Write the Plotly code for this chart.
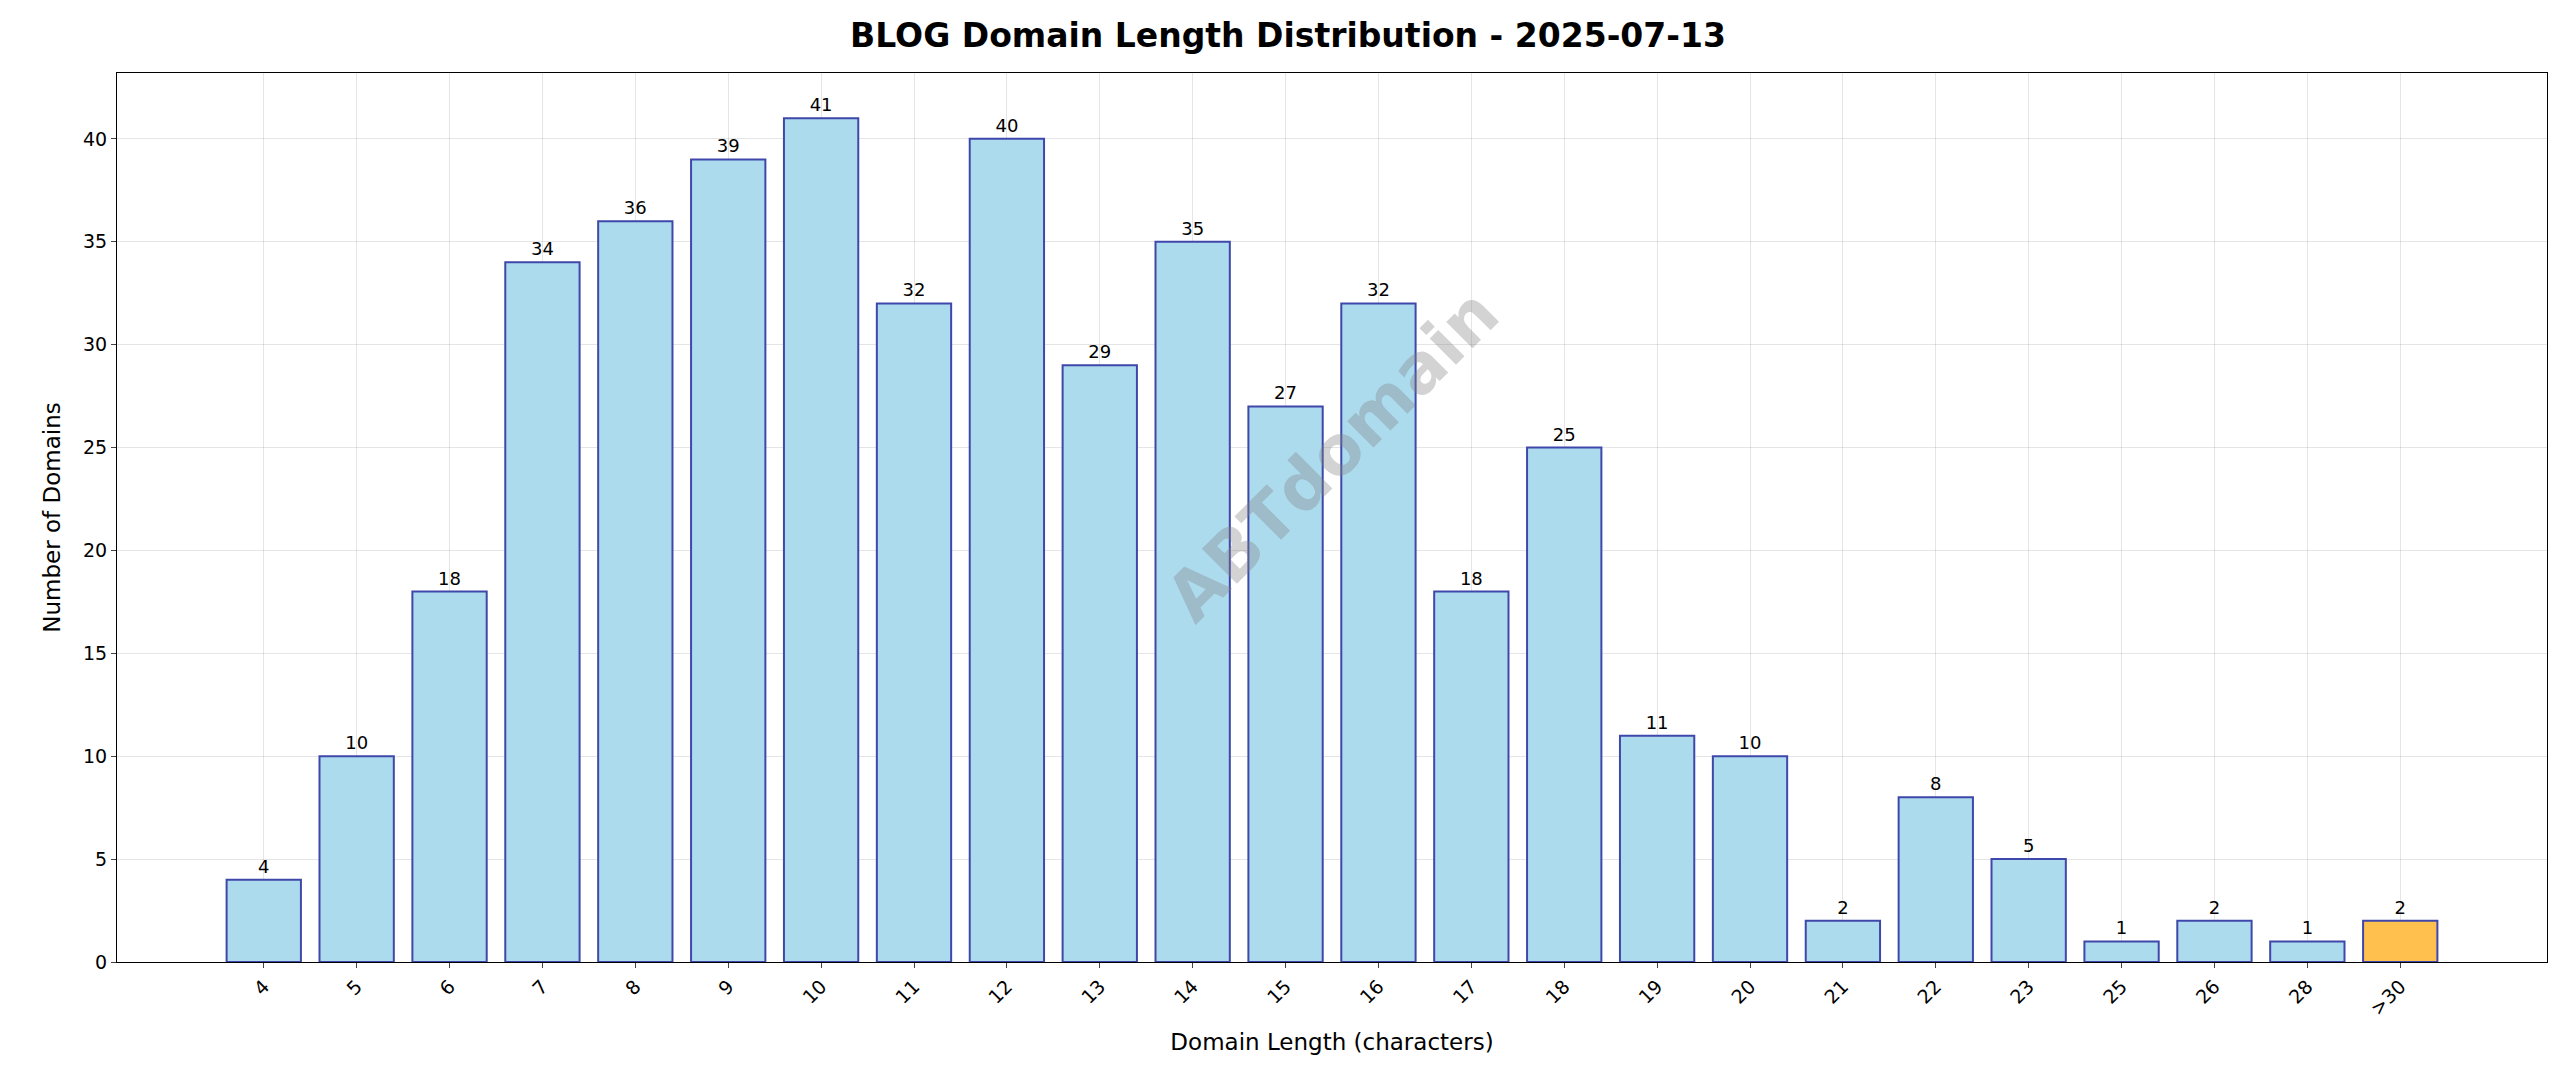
import plotly.graph_objects as go

categories = ["4","5","6","7","8","9","10","11","12","13","14","15","16","17","18","19","20","21","22","23","25","26","28",">30"]
counts = [4,10,18,34,36,39,41,32,40,29,35,27,32,18,25,11,10,2,8,5,1,2,1,2]
colors = ["#ADDBEE"]*23 + ["#FFC04D"]

fig = go.Figure(go.Bar(
    x=list(range(len(categories))), y=counts, width=0.8,
    marker=dict(color=colors, line=dict(color="#3F48AA", width=2)),
    text=[str(c) for c in counts], textposition="outside",
    textfont=dict(size=18, color="black"), cliponaxis=False,
))
fig.update_layout(
    width=2560, height=1087, plot_bgcolor="white", paper_bgcolor="white",
    font=dict(family="DejaVu Sans", color="black"),
    title=dict(text="<b>BLOG Domain Length Distribution - 2025-07-13</b>", x=0.5, xanchor="center",
               y=0.975, yanchor="middle", font=dict(size=33)),
    margin=dict(l=109, r=21, t=65, b=133),
    showlegend=False,
    annotations=[dict(text="<b>ABTdomain</b>", x=0.5, y=0.57, xref="paper", yref="paper",
                      showarrow=False, textangle=-45, font=dict(size=68, color="rgba(128,128,128,0.35)"))],
)
fig.update_xaxes(tickmode="array", tickvals=list(range(len(categories))), ticktext=categories,
                 tickangle=-45, range=[-1.58, 24.58], showline=True, linecolor="black", mirror=True,
                 showgrid=True, gridcolor="rgba(0,0,0,0.1)", ticks="outside", tickfont=dict(size=19),
                 title=dict(text="Domain Length (characters)", font=dict(size=23)))
fig.update_yaxes(range=[0, 43.2], dtick=5, showline=True, linecolor="black", mirror=True,
                 showgrid=True, gridcolor="rgba(0,0,0,0.1)", ticks="outside", tickfont=dict(size=19),
                 zeroline=False, title=dict(text="Number of Domains", font=dict(size=23)))
fig.write_html("out.html")
